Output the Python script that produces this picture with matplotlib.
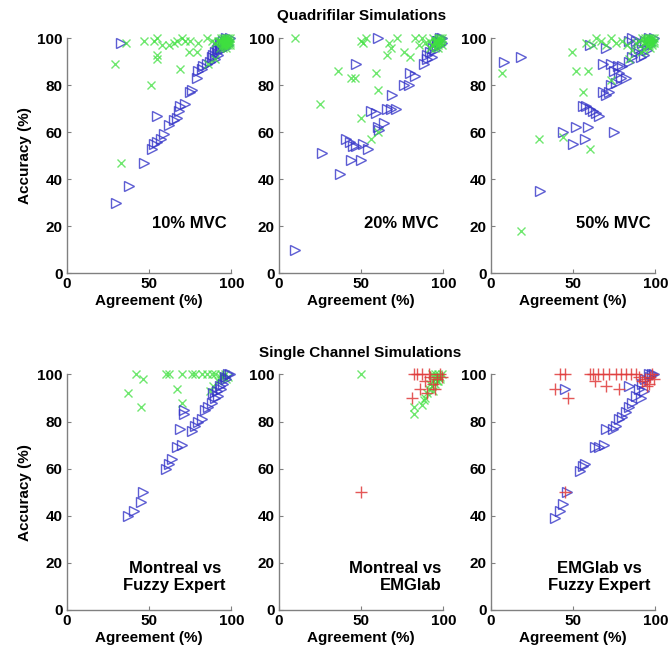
import matplotlib
matplotlib.use("Agg")
import matplotlib.pyplot as plt

plt.rcParams['font.family'] = ['Liberation Sans', 'DejaVu Sans']
plt.rcParams['font.weight'] = 'bold'

# ------------------------------------------------------------
# data: (agreement %, accuracy %) per panel and per marker group
# ------------------------------------------------------------
q10_tri = [(33, 98), (30, 30), (38, 37), (47, 47), (55, 67), (62, 63), (52, 53), (53, 55),
           (55, 56), (57, 57), (59, 59), (65, 65), (67, 66), (68, 69), (69, 71), (72, 72),
           (75, 77), (76, 78), (79, 83), (80, 86), (82, 87), (83, 88), (85, 89), (87, 90),
           (88, 92), (89, 93), (90, 94), (91, 95), (92, 96), (93, 96), (94, 97), (95, 97),
           (96, 98), (97, 99), (98, 99), (99, 100), (95, 99), (97, 100), (93, 98), (96, 96),
           (98, 97), (94, 95), (90, 91), (92, 93)]
q10_x = [(29, 89), (33, 47), (51, 80), (55, 91), (55, 93), (69, 87), (74, 94), (79, 94),
         (36, 98), (47, 99), (53, 99), (55, 100), (58, 97), (62, 97), (65, 98), (67, 99),
         (70, 100), (72, 99), (75, 99), (80, 98), (85, 100), (88, 99), (90, 98), (92, 99),
         (94, 100), (96, 100), (97, 99), (98, 98), (95, 97), (93, 96), (99, 100), (97, 97),
         (90, 91), (86, 89), (96, 98), (98, 100), (99, 98), (95, 100), (97, 96), (94, 98),
         (96, 99), (97, 98), (98, 99), (99, 99), (95, 98), (96, 97), (97, 100), (98, 97),
         (99, 97), (94, 99), (93, 99), (95, 96)]

q20_tri = [(10, 10), (26, 51), (37, 42), (47, 89), (60, 100), (41, 57), (43, 56), (45, 54),
           (47, 54), (51, 55), (54, 53), (44, 48), (50, 48), (56, 69), (59, 68), (60, 62),
           (61, 61), (64, 64), (66, 70), (68, 70), (71, 70), (69, 76), (76, 80), (79, 80),
           (80, 85), (83, 84), (88, 89), (90, 91), (90, 93), (92, 94), (94, 96), (96, 97),
           (97, 99), (98, 100), (99, 98), (96, 99), (98, 97), (95, 95), (93, 92), (99, 100)]
q20_x = [(10, 100), (25, 72), (36, 86), (44, 83), (46, 83), (50, 99), (51, 98), (53, 100),
         (59, 85), (60, 78), (50, 66), (56, 57), (60, 60), (66, 93), (67, 98), (68, 96),
         (72, 100), (76, 94), (80, 92), (83, 100), (87, 100), (89, 98), (91, 99), (93, 97),
         (94, 100), (95, 98), (96, 99), (97, 100), (98, 98), (99, 99), (97, 96), (95, 96),
         (99, 100), (98, 100), (92, 96), (85, 97), (96, 98), (97, 99), (98, 99), (99, 97),
         (95, 99), (97, 97)]

q50_tri = [(8, 90), (18, 92), (30, 35), (44, 60), (50, 55), (52, 62), (57, 57), (59, 62),
           (75, 60), (56, 71), (58, 71), (60, 70), (62, 69), (64, 68), (66, 67), (68, 77),
           (70, 76), (72, 77), (76, 81), (78, 85), (79, 83), (80, 88), (68, 89), (70, 96),
           (73, 89), (60, 97), (84, 99), (86, 100), (88, 99), (84, 90), (86, 92), (88, 94),
           (75, 86), (77, 88), (73, 80), (90, 96), (92, 98), (94, 99), (96, 100), (98, 99),
           (97, 97), (95, 95), (99, 100), (93, 93), (91, 92), (82, 83)]
q50_x = [(7, 85), (18, 18), (29, 57), (44, 58), (49, 94), (52, 86), (59, 86), (56, 77),
         (60, 53), (58, 98), (62, 97), (64, 100), (67, 99), (70, 97), (73, 100), (76, 98),
         (73, 82), (80, 99), (83, 97), (86, 95), (88, 98), (90, 99), (92, 100), (94, 98),
         (95, 100), (96, 97), (97, 99), (98, 100), (99, 98), (93, 95), (91, 94), (84, 91),
         (99, 100), (97, 96), (95, 99), (96, 99), (97, 98), (98, 97), (99, 99), (94, 100),
         (96, 100), (93, 98), (95, 97), (98, 98), (97, 100)]

mf_tri = [(37, 40), (41, 42), (45, 46), (46, 50), (60, 60), (62, 62), (64, 64), (67, 69),
          (70, 70), (69, 77), (71, 85), (71, 83), (76, 76), (78, 78), (80, 80), (82, 81),
          (84, 85), (86, 86), (88, 88), (89, 92), (91, 93), (93, 95), (95, 96), (97, 98),
          (99, 100), (96, 99), (98, 100), (94, 94), (92, 91), (90, 90)]
mf_x = [(37, 92), (42, 100), (46, 98), (45, 86), (60, 100), (62, 100), (67, 94), (70, 100),
        (76, 100), (78, 100), (82, 100), (85, 100), (70, 88), (87, 93), (89, 95), (92, 97),
        (93, 99), (95, 99), (88, 100), (90, 100), (94, 100), (96, 100), (97, 98), (98, 99)]

me_x = [(50, 100), (82, 83), (82, 86), (87, 87), (89, 90), (90, 92), (91, 94), (92, 96),
        (93, 95), (94, 97), (95, 98), (96, 99), (97, 100), (98, 99), (99, 100), (93, 100),
        (95, 100), (97, 97), (88, 89), (94, 93), (96, 97), (98, 98), (95, 96), (97, 99)]
me_plus = [(50, 50), (82, 100), (84, 100), (87, 100), (81, 90), (86, 94), (89, 97), (90, 92),
           (92, 99), (94, 96), (96, 98), (98, 100), (99, 99), (91, 100), (95, 94)]

ef_plus = [(39, 94), (42, 100), (45, 100), (47, 90), (45, 50), (60, 100), (62, 100), (65, 100),
           (68, 100), (72, 100), (76, 100), (79, 100), (82, 100), (85, 100), (88, 100),
           (63, 97), (70, 95), (78, 94), (90, 99), (92, 97), (94, 98), (96, 96), (97, 99),
           (98, 100), (99, 98), (95, 95)]
ef_tri = [(45, 94), (39, 39), (42, 42), (44, 45), (46, 50), (54, 59), (56, 61), (57, 62),
          (63, 69), (66, 69), (69, 70), (70, 77), (74, 77), (76, 78), (78, 81), (80, 82),
          (82, 84), (84, 86), (86, 88), (88, 91), (90, 94), (92, 96), (94, 98), (96, 100),
          (84, 95), (98, 100), (99, 100), (97, 99), (93, 93), (91, 90)]

top_labels = ["10% MVC", "20% MVC", "50% MVC"]
bottom_labels = ["Montreal vs\nFuzzy Expert", "Montreal vs\nEMGlab", "EMGlab vs\nFuzzy Expert"]

BLUE = '#3535c8'
GREEN = '#3fe03f'
RED = '#e03a3a'


def draw(ax, pts, kind):
    xs = [p[0] for p in pts]
    ys = [p[1] for p in pts]
    if kind == 'tri':
        ax.plot(xs, ys, '>', ls='none', ms=7, mfc='none', mec=BLUE, mew=1.0, alpha=0.8,
                clip_on=False)
    elif kind == 'x':
        ax.plot(xs, ys, 'x', ls='none', ms=6, color=GREEN, mew=1.0, alpha=0.75, clip_on=False)
    else:
        ax.plot(xs, ys, '+', ls='none', ms=8, color=RED, mew=1.0, alpha=0.85, clip_on=False)


def style(ax, first_col):
    ax.set_xlim(0, 100)
    ax.set_ylim(0, 100)
    ax.set_xticks([0, 50, 100])
    ax.set_yticks([0, 20, 40, 60, 80, 100])
    for s in ['top', 'right']:
        ax.spines[s].set_visible(False)
    for s in ['left', 'bottom']:
        ax.spines[s].set_color('#808080')
        ax.spines[s].set_linewidth(1.0)
    ax.tick_params(direction='in', length=3, color='#808080', labelsize=11, pad=3)
    for lab in ax.get_xticklabels() + ax.get_yticklabels():
        lab.set_fontweight('bold')
    ax.set_xlabel('Agreement (%)', fontsize=11, fontweight='bold', labelpad=2)
    if first_col:
        ax.set_ylabel('Accuracy (%)', fontsize=11, fontweight='bold', labelpad=4)


fig = plt.figure(figsize=(6.68, 6.58), dpi=100)

lefts = [0.1003, 0.4177, 0.735]
w = 0.246
top_axes = [fig.add_axes([l, 0.585, w, 0.357]) for l in lefts]
bot_axes = [fig.add_axes([l, 0.073, w, 0.358]) for l in lefts]

top_sets = [(q10_tri, q10_x), (q20_tri, q20_x), (q50_tri, q50_x)]
for i, ax in enumerate(top_axes):
    tri, xx = top_sets[i]
    draw(ax, tri, 'tri')
    draw(ax, xx, 'x')
    style(ax, i == 0)
    ax.text(0.97, 0.21, top_labels[i], transform=ax.transAxes, ha='right', va='center',
            fontsize=12, fontweight='bold')

# bottom row
draw(bot_axes[0], mf_x, 'x')
draw(bot_axes[0], mf_tri, 'tri')
draw(bot_axes[1], me_x, 'x')
draw(bot_axes[1], me_plus, 'plus')
draw(bot_axes[2], ef_tri, 'tri')
draw(bot_axes[2], ef_plus, 'plus')
label_pos = [(0.655, 'center'), (0.99, 'right'), (0.66, 'center')]
for i, ax in enumerate(bot_axes):
    style(ax, i == 0)
    x, ha = label_pos[i]
    ax.text(x, 0.14, bottom_labels[i], transform=ax.transAxes, ha=ha, va='center',
            multialignment='center' if ha == 'center' else 'right',
            fontsize=12, fontweight='bold', linespacing=1.1)

fig.text(0.542, 0.976, 'Quadrifilar Simulations', ha='center', va='center',
         fontsize=11, fontweight='bold')
fig.text(0.539, 0.464, 'Single Channel Simulations', ha='center', va='center',
         fontsize=11, fontweight='bold')

fig.savefig('out.png', dpi=100)
